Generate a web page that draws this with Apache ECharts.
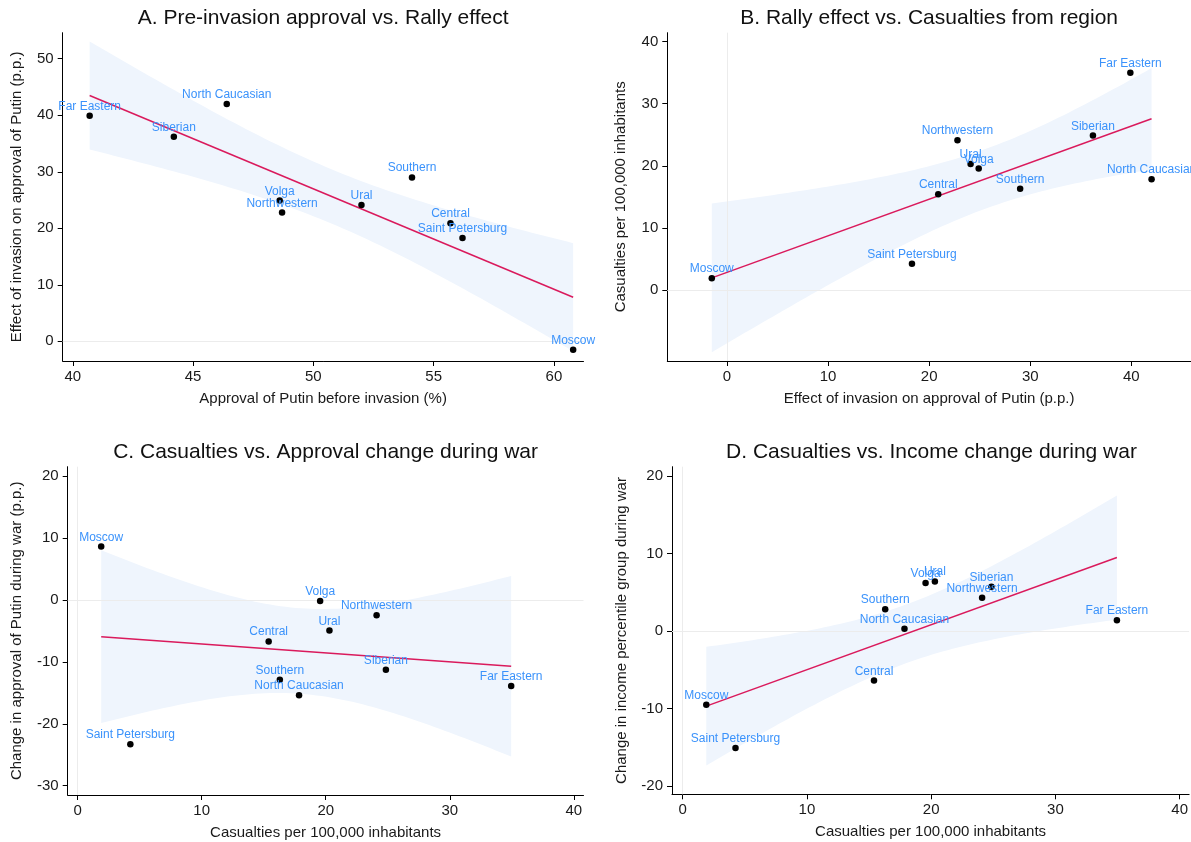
<!DOCTYPE html>
<html><head><meta charset="utf-8">
<script src="https://cdn.jsdelivr.net/npm/echarts@6/dist/echarts.min.js"></script>
<style>html,body{margin:0;padding:0;background:#fff}#c{width:1191px;height:842px}</style>
</head><body><div id="c"></div>
<script>
// ---- data ----
const regions = ['Far Eastern','North Caucasian','Siberian','Southern','Volga','Northwestern','Ural','Central','Saint Petersburg','Moscow'];
const approvalBefore = [40.7, 46.4, 44.2, 54.1, 48.6, 48.7, 52.0, 55.7, 56.2, 60.8];
const rallyEffect    = [39.9, 42.0, 36.2, 29.0, 24.9, 22.8, 24.1, 20.9, 18.3, -1.5];
const casualties     = [34.95, 17.85, 24.85, 16.3, 19.55, 24.1, 20.3, 15.4, 4.25, 1.9];
const approvalChange = [-13.9, -15.4, -11.3, -12.9, -0.2, -2.5, -4.95, -6.7, -23.3, 8.6];
const incomeChange   = [1.4, 0.3, 5.7, 2.8, 6.2, 4.3, 6.4, -6.4, -15.1, -9.5];

const titles = ['A. Pre-invasion approval vs. Rally effect','B. Rally effect vs. Casualties from region',
                'C. Casualties vs. Approval change during war','D. Casualties vs. Income change during war'];
const xNames = ['Approval of Putin before invasion (%)','Effect of invasion on approval of Putin (p.p.)',
                'Casualties per 100,000 inhabitants','Casualties per 100,000 inhabitants'];
const yNames = ['Effect of invasion on approval of Putin (p.p.)','Casualties per 100,000 inhabitants',
                'Change in approval of Putin during war (p.p.)','Change in income percentile group during war'];
const xTicksA = [40,45,50,55,60], yTicksA = [0,10,20,30,40,50];
const xTicksB = [0,10,20,30,40],  yTicksB = [0,10,20,30,40];
const xTicksC = [0,10,20,30,40],  yTicksC = [-30,-20,-10,0,10,20];
const xTicksD = [0,10,20,30,40],  yTicksD = [-20,-10,0,10,20];

// ---- layout ----
const FONT = 'Liberation Sans, Arial, Helvetica, sans-serif';
const panels = [
  {xs: approvalBefore, ys: rallyEffect, xt: xTicksA, yt: yTicksA, xr:[39.58,61.23], yr:[-3.48,54.6],
   grid:{left:62.7, top:32.7, width:520.8, height:328.3}, zx:false, zy:true, yGap:38},
  {xs: rallyEffect, ys: casualties, xt: xTicksB, yt: yTicksB, xr:[-5.9,45.9], yr:[-11.4,41.4],
   grid:{left:667.3, top:32.7, width:523.7, height:328.3}, zx:true, zy:true, yGap:39},
  {xs: casualties, ys: approvalChange, xt: xTicksC, yt: yTicksC, xr:[-0.8,40.78], yr:[-31.5,21.5],
   grid:{left:67.7, top:466.7, width:515.8, height:328.3}, zx:true, zy:true, yGap:43},
  {xs: casualties, ys: incomeChange, xt: xTicksD, yt: yTicksD, xr:[-0.86,40.76], yr:[-21.07,21.2],
   grid:{left:672, top:466.7, width:519, height:327.6}, zx:true, zy:true, yGap:43}
];

// OLS fit with 95% CI of mean prediction (like Stata lfitci)
function fit(xs, ys){
  const n = xs.length;
  const mx = xs.reduce((a,b)=>a+b,0)/n, my = ys.reduce((a,b)=>a+b,0)/n;
  let sxx=0, sxy=0;
  for(let i=0;i<n;i++){ sxx+=(xs[i]-mx)**2; sxy+=(xs[i]-mx)*(ys[i]-my); }
  const b = sxy/sxx, a = my-b*mx;
  let sse=0; for(let i=0;i<n;i++){ sse+=(ys[i]-a-b*xs[i])**2; }
  const s = Math.sqrt(sse/(n-2)), t = 2.306004;
  const lo = Math.min(...xs), hi = Math.max(...xs);
  const band=[];
  const N=80;
  for(let k=0;k<=N;k++){
    const x = lo+(hi-lo)*k/N, yh = a+b*x;
    const se = s*Math.sqrt(1/n+(x-mx)**2/sxx);
    band.push([x, yh-t*se, yh+t*se]);
  }
  return {line:[[lo,a+b*lo],[hi,a+b*hi]], band};
}

const option = {animation:false, backgroundColor:'#fff', title:[], grid:[], xAxis:[], yAxis:[], series:[]};
panels.forEach((p,i)=>{
  const g = p.grid;
  option.grid.push({left:g.left, top:g.top, width:g.width, height:g.height, containLabel:false});
  option.title.push({text:titles[i], left:g.left+g.width/2, top:g.top-(i<2?25.2:24.5), textAlign:'center', padding:0,
    textStyle:{fontFamily:FONT, fontSize:21, fontWeight:'normal', color:'#111'}});
  const axisCommon = {
    axisLine:{show:true, onZero:false, lineStyle:{color:'#000', width:1}},
    splitLine:{show:false},
    nameLocation:'middle',
    nameTextStyle:{fontFamily:FONT, fontSize:15, color:'#1a1a1a'}
  };
  option.xAxis.push(Object.assign({}, axisCommon, {
    gridIndex:i, type:'value', min:p.xr[0], max:p.xr[1], name:xNames[i], nameGap:30,
    axisTick:{show:true, length:5, lineStyle:{color:'#000'}, customValues:p.xt},
    axisLabel:{fontFamily:FONT, fontSize:15, color:'#1a1a1a', margin:8, customValues:p.xt}
  }));
  option.yAxis.push(Object.assign({}, axisCommon, {
    gridIndex:i, type:'value', min:p.yr[0], max:p.yr[1], name:yNames[i], nameGap:p.yGap,
    axisTick:{show:true, length:5, lineStyle:{color:'#000'}, customValues:p.yt},
    axisLabel:{fontFamily:FONT, fontSize:15, color:'#1a1a1a', margin:9, customValues:p.yt}
  }));
  const f = fit(p.xs, p.ys);
  option.series.push({
    type:'custom', xAxisIndex:i, yAxisIndex:i, silent:true, z:1,
    data:f.band,
    renderItem:(params, api)=>{
      if(params.dataIndex!==0) return null;
      const pts=[];
      f.band.forEach(r=>pts.push(api.coord([r[0], r[2]])));
      for(let k=f.band.length-1;k>=0;k--) pts.push(api.coord([f.band[k][0], f.band[k][1]]));
      return {type:'polygon', shape:{points:pts}, style:{fill:'#eff5fd'}};
    }
  });
  const ml = [];
  if(p.zy) ml.push({yAxis:0});
  if(p.zx) ml.push({xAxis:0});
  option.series.push({
    type:'line', xAxisIndex:i, yAxisIndex:i, data:f.line, showSymbol:false, silent:true, z:3,
    lineStyle:{color:'#da1a5c', width:1.5},
    markLine:{silent:true, symbol:'none', label:{show:false}, data:ml,
      lineStyle:{color:'#ececec', type:'solid', width:1}, z:2}
  });
  option.series.push({
    type:'scatter', xAxisIndex:i, yAxisIndex:i, z:4,
    data: regions.map((r,k)=>[p.xs[k], p.ys[k], r]),
    symbol:'circle', symbolSize:6.5, itemStyle:{color:'#000', opacity:1},
    label:{show:true, position:'top', distance:0, formatter:(d)=>d.value[2],
      fontFamily:FONT, fontSize:12, color:'#3a92fb'}
  });
});
const chart = echarts.init(document.getElementById('c'), null, {renderer:'canvas'});
chart.setOption(option);
</script>
</body></html>
